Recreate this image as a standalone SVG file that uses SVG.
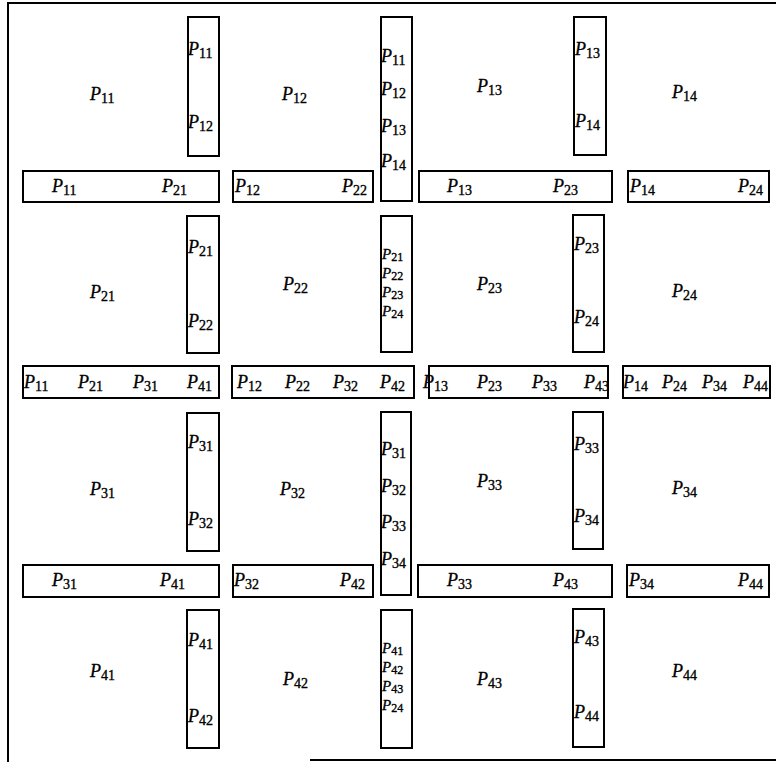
<svg xmlns="http://www.w3.org/2000/svg" width="776" height="762" viewBox="0 0 776 762">
<style>
.bx{fill:none;stroke:#000;stroke-width:2}
.fr{fill:none;stroke:#000;stroke-width:2}
text{font-family:"Liberation Serif","DejaVu Serif",serif;fill:#000;stroke:#000;stroke-width:0.35}
.p{font-style:italic;font-size:18px}
.s{font-style:normal;font-size:14px}
.k .p{font-size:15px}
.k .s{font-size:12px}
</style>
<rect x="0" y="0" width="776" height="762" fill="#fff"/>
<g id="frame">
<path class="fr" d="M8,762 V3 H776"/>
<path class="fr" d="M310,760 H776"/>
</g>
<!-- Big cell labels -->
<g id="cell-11"><text x="90" y="100"><tspan class="p">P</tspan><tspan class="s" dy="3">11</tspan></text></g>
<g id="cell-12"><text x="282" y="100"><tspan class="p">P</tspan><tspan class="s" dy="3">12</tspan></text></g>
<g id="cell-13"><text x="477" y="92"><tspan class="p">P</tspan><tspan class="s" dy="3">13</tspan></text></g>
<g id="cell-14"><text x="672" y="98"><tspan class="p">P</tspan><tspan class="s" dy="3">14</tspan></text></g>
<g id="cell-21"><text x="90" y="298"><tspan class="p">P</tspan><tspan class="s" dy="3">21</tspan></text></g>
<g id="cell-22"><text x="283" y="290"><tspan class="p">P</tspan><tspan class="s" dy="3">22</tspan></text></g>
<g id="cell-23"><text x="477" y="290"><tspan class="p">P</tspan><tspan class="s" dy="3">23</tspan></text></g>
<g id="cell-24"><text x="672" y="297"><tspan class="p">P</tspan><tspan class="s" dy="3">24</tspan></text></g>
<g id="cell-31"><text x="90" y="495"><tspan class="p">P</tspan><tspan class="s" dy="3">31</tspan></text></g>
<g id="cell-32"><text x="280" y="495"><tspan class="p">P</tspan><tspan class="s" dy="3">32</tspan></text></g>
<g id="cell-33"><text x="477" y="487"><tspan class="p">P</tspan><tspan class="s" dy="3">33</tspan></text></g>
<g id="cell-34"><text x="672" y="494"><tspan class="p">P</tspan><tspan class="s" dy="3">34</tspan></text></g>
<g id="cell-41"><text x="90" y="677"><tspan class="p">P</tspan><tspan class="s" dy="3">41</tspan></text></g>
<g id="cell-42"><text x="283" y="685"><tspan class="p">P</tspan><tspan class="s" dy="3">42</tspan></text></g>
<g id="cell-43"><text x="477" y="685"><tspan class="p">P</tspan><tspan class="s" dy="3">43</tspan></text></g>
<g id="cell-44"><text x="672" y="677"><tspan class="p">P</tspan><tspan class="s" dy="3">44</tspan></text></g>
<!-- Row 1 vertical boxes -->
<g id="vbox-1-1"><rect class="bx" x="188" y="17" width="31" height="139"/>
<text x="188" y="55"><tspan class="p">P</tspan><tspan class="s" dy="3">11</tspan></text>
<text x="188" y="128"><tspan class="p">P</tspan><tspan class="s" dy="3">12</tspan></text></g>
<g id="vbox-1-2"><rect class="bx" x="381" y="17" width="31" height="184"/>
<text x="381" y="62"><tspan class="p">P</tspan><tspan class="s" dy="3">11</tspan></text>
<text x="381" y="95"><tspan class="p">P</tspan><tspan class="s" dy="3">12</tspan></text>
<text x="381" y="132"><tspan class="p">P</tspan><tspan class="s" dy="3">13</tspan></text>
<text x="381" y="167"><tspan class="p">P</tspan><tspan class="s" dy="3">14</tspan></text></g>
<g id="vbox-1-3"><rect class="bx" x="574" y="17" width="32" height="138"/>
<text x="575" y="55"><tspan class="p">P</tspan><tspan class="s" dy="3">13</tspan></text>
<text x="575" y="127"><tspan class="p">P</tspan><tspan class="s" dy="3">14</tspan></text></g>
<!-- Row 1 horizontal boxes -->
<g id="hbox-1-1"><rect class="bx" x="23" y="171" width="196" height="31"/>
<text x="52" y="192"><tspan class="p">P</tspan><tspan class="s" dy="3">11</tspan></text>
<text x="162" y="192"><tspan class="p">P</tspan><tspan class="s" dy="3">21</tspan></text></g>
<g id="hbox-1-2"><rect class="bx" x="233" y="171" width="140" height="31"/>
<text x="235" y="192"><tspan class="p">P</tspan><tspan class="s" dy="3">12</tspan></text>
<text x="342" y="192"><tspan class="p">P</tspan><tspan class="s" dy="3">22</tspan></text></g>
<g id="hbox-1-3"><rect class="bx" x="419" y="171" width="193" height="31"/>
<text x="447" y="192"><tspan class="p">P</tspan><tspan class="s" dy="3">13</tspan></text>
<text x="553" y="192"><tspan class="p">P</tspan><tspan class="s" dy="3">23</tspan></text></g>
<g id="hbox-1-4"><rect class="bx" x="628" y="171" width="141" height="31"/>
<text x="630" y="192"><tspan class="p">P</tspan><tspan class="s" dy="3">14</tspan></text>
<text x="738" y="192"><tspan class="p">P</tspan><tspan class="s" dy="3">24</tspan></text></g>
<!-- Row 2 vertical boxes -->
<g id="vbox-2-1"><rect class="bx" x="187" y="216" width="32" height="137"/>
<text x="188" y="253"><tspan class="p">P</tspan><tspan class="s" dy="3">21</tspan></text>
<text x="188" y="327"><tspan class="p">P</tspan><tspan class="s" dy="3">22</tspan></text></g>
<g id="vbox-2-2" class="k"><rect class="bx" x="381" y="216" width="31" height="136"/>
<text x="382" y="259"><tspan class="p">P</tspan><tspan class="s" dy="2">21</tspan></text>
<text x="382" y="278"><tspan class="p">P</tspan><tspan class="s" dy="2">22</tspan></text>
<text x="382" y="297"><tspan class="p">P</tspan><tspan class="s" dy="2">23</tspan></text>
<text x="382" y="316"><tspan class="p">P</tspan><tspan class="s" dy="2">24</tspan></text></g>
<g id="vbox-2-3"><rect class="bx" x="573" y="215" width="31" height="137"/>
<text x="574" y="250"><tspan class="p">P</tspan><tspan class="s" dy="3">23</tspan></text>
<text x="574" y="323"><tspan class="p">P</tspan><tspan class="s" dy="3">24</tspan></text></g>
<!-- Row 2 horizontal boxes -->
<g id="hbox-2-1"><rect class="bx" x="23" y="366" width="196" height="32"/>
<text x="24" y="388"><tspan class="p">P</tspan><tspan class="s" dy="3">11</tspan></text>
<text x="78" y="388"><tspan class="p">P</tspan><tspan class="s" dy="3">21</tspan></text>
<text x="133" y="388"><tspan class="p">P</tspan><tspan class="s" dy="3">31</tspan></text>
<text x="187" y="388"><tspan class="p">P</tspan><tspan class="s" dy="3">41</tspan></text></g>
<g id="hbox-2-2"><rect class="bx" x="232" y="366" width="182" height="32"/>
<text x="237" y="388"><tspan class="p">P</tspan><tspan class="s" dy="3">12</tspan></text>
<text x="285" y="388"><tspan class="p">P</tspan><tspan class="s" dy="3">22</tspan></text>
<text x="333" y="388"><tspan class="p">P</tspan><tspan class="s" dy="3">32</tspan></text>
<text x="380" y="388"><tspan class="p">P</tspan><tspan class="s" dy="3">42</tspan></text></g>
<g id="hbox-2-3"><rect class="bx" x="429" y="366" width="179" height="32"/>
<text x="423" y="388"><tspan class="p">P</tspan><tspan class="s" dy="3">13</tspan></text>
<text x="477" y="388"><tspan class="p">P</tspan><tspan class="s" dy="3">23</tspan></text>
<text x="532" y="388"><tspan class="p">P</tspan><tspan class="s" dy="3">33</tspan></text>
<text x="584" y="388"><tspan class="p">P</tspan><tspan class="s" dy="3">43</tspan></text></g>
<g id="hbox-2-4"><rect class="bx" x="623" y="366" width="147" height="32"/>
<text x="623" y="388"><tspan class="p">P</tspan><tspan class="s" dy="3">14</tspan></text>
<text x="662" y="388"><tspan class="p">P</tspan><tspan class="s" dy="3">24</tspan></text>
<text x="702" y="388"><tspan class="p">P</tspan><tspan class="s" dy="3">34</tspan></text>
<text x="743" y="388"><tspan class="p">P</tspan><tspan class="s" dy="3">44</tspan></text></g>
<!-- Row 3 vertical boxes -->
<g id="vbox-3-1"><rect class="bx" x="187" y="413" width="32" height="138"/>
<text x="188" y="448"><tspan class="p">P</tspan><tspan class="s" dy="3">31</tspan></text>
<text x="188" y="525"><tspan class="p">P</tspan><tspan class="s" dy="3">32</tspan></text></g>
<g id="vbox-3-2"><rect class="bx" x="381" y="412" width="30" height="183"/>
<text x="381" y="455"><tspan class="p">P</tspan><tspan class="s" dy="3">31</tspan></text>
<text x="381" y="492"><tspan class="p">P</tspan><tspan class="s" dy="3">32</tspan></text>
<text x="381" y="528"><tspan class="p">P</tspan><tspan class="s" dy="3">33</tspan></text>
<text x="381" y="565"><tspan class="p">P</tspan><tspan class="s" dy="3">34</tspan></text></g>
<g id="vbox-3-3"><rect class="bx" x="573" y="412" width="30" height="137"/>
<text x="574" y="450"><tspan class="p">P</tspan><tspan class="s" dy="3">33</tspan></text>
<text x="574" y="522"><tspan class="p">P</tspan><tspan class="s" dy="3">34</tspan></text></g>
<!-- Row 3 horizontal boxes -->
<g id="hbox-3-1"><rect class="bx" x="23" y="565" width="196" height="32"/>
<text x="52" y="586"><tspan class="p">P</tspan><tspan class="s" dy="3">31</tspan></text>
<text x="160" y="586"><tspan class="p">P</tspan><tspan class="s" dy="3">41</tspan></text></g>
<g id="hbox-3-2"><rect class="bx" x="233" y="565" width="140" height="32"/>
<text x="234" y="586"><tspan class="p">P</tspan><tspan class="s" dy="3">32</tspan></text>
<text x="340" y="586"><tspan class="p">P</tspan><tspan class="s" dy="3">42</tspan></text></g>
<g id="hbox-3-3"><rect class="bx" x="418" y="565" width="194" height="32"/>
<text x="447" y="586"><tspan class="p">P</tspan><tspan class="s" dy="3">33</tspan></text>
<text x="553" y="586"><tspan class="p">P</tspan><tspan class="s" dy="3">43</tspan></text></g>
<g id="hbox-3-4"><rect class="bx" x="627" y="565" width="142" height="32"/>
<text x="629" y="586"><tspan class="p">P</tspan><tspan class="s" dy="3">34</tspan></text>
<text x="738" y="586"><tspan class="p">P</tspan><tspan class="s" dy="3">44</tspan></text></g>
<!-- Row 4 vertical boxes -->
<g id="vbox-4-1"><rect class="bx" x="187" y="610" width="32" height="138"/>
<text x="188" y="646"><tspan class="p">P</tspan><tspan class="s" dy="3">41</tspan></text>
<text x="188" y="722"><tspan class="p">P</tspan><tspan class="s" dy="3">42</tspan></text></g>
<g id="vbox-4-2" class="k"><rect class="bx" x="381" y="610" width="31" height="138"/>
<text x="382" y="653"><tspan class="p">P</tspan><tspan class="s" dy="2">41</tspan></text>
<text x="382" y="672"><tspan class="p">P</tspan><tspan class="s" dy="2">42</tspan></text>
<text x="382" y="691"><tspan class="p">P</tspan><tspan class="s" dy="2">43</tspan></text>
<text x="382" y="710"><tspan class="p">P</tspan><tspan class="s" dy="2">24</tspan></text></g>
<g id="vbox-4-3"><rect class="bx" x="573" y="609" width="31" height="138"/>
<text x="574" y="643"><tspan class="p">P</tspan><tspan class="s" dy="3">43</tspan></text>
<text x="574" y="718"><tspan class="p">P</tspan><tspan class="s" dy="3">44</tspan></text></g>
</svg>
